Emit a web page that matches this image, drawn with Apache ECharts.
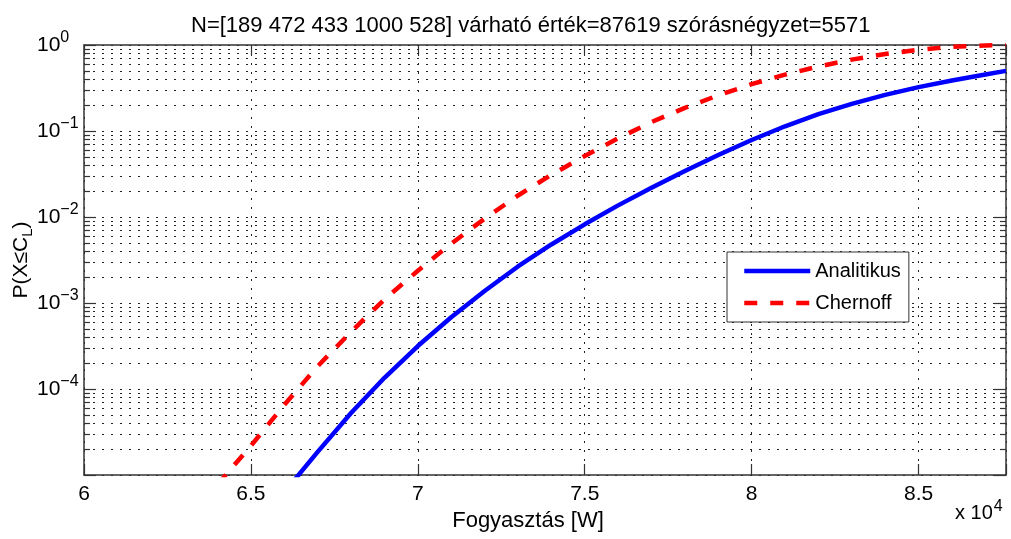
<!DOCTYPE html>
<html>
<head>
<meta charset="utf-8">
<script src="https://cdn.jsdelivr.net/npm/echarts@6/dist/echarts.min.js"></script>
<style>
  html, body { margin: 0; padding: 0; background: #fff; }
  #chart { width: 1011px; height: 539px; }
</style>
</head>
<body>
<div id="chart"></div>
<script>
// Consumption values [W] and probabilities P(X <= C_L)
const analitikusX = [66000, 67000, 68000, 69000, 70000, 71000, 72000, 73000, 74000, 75000, 76000,
  77000, 78000, 79000, 80000, 81000, 82000, 83000, 84000, 85000, 86000, 87000, 87619];
const analitikusP = [6.31e-6, 1.86e-5, 5.25e-5, 1.35e-4, 3.16e-4, 6.84e-4, 1.38e-3, 2.66e-3, 4.79e-3,
  8.22e-3, 1.365e-2, 2.19e-2, 3.43e-2, 5.25e-2, 7.85e-2, 0.1135, 0.157, 0.2065, 0.263, 0.324, 0.387,
  0.455, 0.500];

const chernoffX = [64000, 65000, 66000, 67000, 68000, 69000, 70000, 71000, 72000, 73000, 74000, 75000,
  76000, 77000, 78000, 79000, 80000, 81000, 82000, 83000, 84000, 85000, 86000, 87000, 87619];
const chernoffP = [7.76e-6, 2.19e-5, 6.53e-5, 1.84e-4, 4.62e-4, 1.10e-3, 2.37e-3, 4.90e-3, 9.55e-3,
  1.78e-2, 3.09e-2, 5.13e-2, 8.22e-2, 0.127, 0.186, 0.260, 0.351, 0.452, 0.562, 0.676, 0.785, 0.881,
  0.951, 0.989, 1.0];

// Axis ranges and tick settings
const X_MIN = 60000, X_MAX = 87619, X_STEP = 5000;
const Y_MIN = 1e-5, Y_MAX = 1;
const yDecades = [1e-5, 1e-4, 1e-3, 1e-2, 1e-1];
const minorSteps = [2, 3, 4, 5, 6, 7, 8, 9];

const titleText = 'N=[189 472 433 1000 528] várható érték=87619 szórásnégyzet=5571';
const seriesNames = ['Analitikus', 'Chernoff'];

// Minor log grid values (2..9 within each decade)
const minorValues = [];
yDecades.forEach(function (d) {
  minorSteps.forEach(function (m) { minorValues.push([X_MIN, +(m * d).toPrecision(3)]); });
});

const FONT = '"Liberation Sans", Arial, Helvetica, sans-serif';
const GRID_COLOR = '#222';
const AXIS_COLOR = '#333';
const DOT = [2, 7];
const LINE_W = 4.5;
const DASH = [13, 13];

const chart = echarts.init(document.getElementById('chart'), null, { renderer: 'canvas' });

function pair(xs, ys) { return xs.map(function (x, i) { return [x, ys[i]]; }); }

const option = {
  animation: false,
  backgroundColor: '#fff',
  textStyle: { fontFamily: FONT, color: '#000' },
  title: {
    text: titleText,
    left: 186, top: 9,
    textStyle: { fontFamily: FONT, fontSize: 22, fontWeight: 'normal', color: '#000', lineHeight: 23 }
  },
  grid: { left: 84, right: 5, top: 45, bottom: 64, containLabel: false, outerBoundsMode: 'none' },
  legend: {
    orient: 'vertical',
    left: 727, top: 252,
    padding: [9, 8, 9, 15],
    itemWidth: 66, itemHeight: 20, itemGap: 12,
    backgroundColor: '#fff',
    borderColor: AXIS_COLOR, borderWidth: 1, borderRadius: 0,
    itemStyle: { opacity: 0, borderWidth: 0 },
    lineStyle: { width: LINE_W },
    textStyle: { fontFamily: FONT, fontSize: 20, color: '#000' },
    data: [
      { name: seriesNames[0] },
      { name: seriesNames[1], lineStyle: { width: LINE_W, type: DASH } }
    ]
  },
  xAxis: [{
    type: 'value', min: X_MIN, max: X_MAX, interval: X_STEP,
    position: 'bottom',
    name: 'Fogyasztás [W]', nameLocation: 'middle', nameGap: 35, nameMoveOverlap: false,
    nameTextStyle: { fontFamily: FONT, fontSize: 22, color: '#000', padding: [0, 34, 0, 0] },
    axisLine: { show: true, onZero: false, lineStyle: { color: AXIS_COLOR, width: 1.5 } },
    axisTick: { show: true, inside: true, length: 11, lineStyle: { color: AXIS_COLOR, width: 1.2 } },
    axisLabel: {
      margin: 9, fontSize: 21, color: '#000', lineHeight: 21, fontFamily: FONT,
      formatter: function (v) { return (v % X_STEP === 0) ? String(v / 10000) : ''; }
    },
    splitLine: { show: true, lineStyle: { color: GRID_COLOR, width: 1, type: DOT } }
  }, {
    type: 'value', min: X_MIN, max: X_MAX, interval: X_STEP,
    position: 'top',
    axisLine: { show: true, onZero: false, lineStyle: { color: AXIS_COLOR, width: 1.5 } },
    axisTick: { show: true, inside: true, length: 10, lineStyle: { color: AXIS_COLOR, width: 1.2 } },
    axisLabel: { show: false },
    splitLine: { show: false }
  }],
  yAxis: [{
    type: 'log', logBase: 10, min: Y_MIN, max: Y_MAX,
    position: 'left',
    name: 'P(X≤C{sub|L})', nameLocation: 'middle', nameRotate: 90, nameGap: 49,
    nameMoveOverlap: false,
    nameTextStyle: {
      fontFamily: FONT, fontSize: 21, color: '#000',
      rich: { sub: { fontFamily: FONT, fontSize: 15, color: '#000', padding: [12, 0, 0, 0] } }
    },
    axisLine: { show: true, onZero: false, lineStyle: { color: AXIS_COLOR, width: 1.5 } },
    axisTick: { show: true, inside: true, length: 12, lineStyle: { color: AXIS_COLOR, width: 1.2 } },
    axisLabel: {
      align: 'left', margin: 47,
      formatter: function (v) {
        const e = Math.round(Math.log10(v));
        if (e === -5) return '';
        return '{b|10}{e|' + (e < 0 ? '\u2212' + (-e) : e) + '}';
      },
      rich: {
        b: { fontFamily: FONT, fontSize: 21, color: '#000' },
        e: { fontFamily: FONT, fontSize: 16, color: '#000', padding: [0, 0, 14, 0] }
      }
    },
    splitLine: { show: true, lineStyle: { color: GRID_COLOR, width: 1, type: DOT } }
  }, {
    type: 'log', logBase: 10, min: Y_MIN, max: Y_MAX,
    position: 'right',
    axisLine: { show: true, onZero: false, lineStyle: { color: AXIS_COLOR, width: 1.5 } },
    axisTick: { show: true, inside: true, length: 12, lineStyle: { color: AXIS_COLOR, width: 1.2 } },
    axisLabel: { show: false },
    splitLine: { show: false }
  }],
  graphic: [{
    type: 'text', left: 955, top: 499, z: 10,
    style: {
      text: '{b|x 10}{e|4}',
      rich: {
        b: { fontFamily: FONT, fontSize: 20, fill: '#000' },
        e: { fontFamily: FONT, fontSize: 16, fill: '#000', padding: [0, 0, 13, 1] }
      }
    }
  }],
  series: [{
    // minor log grid lines and minor ticks on both vertical edges
    type: 'custom',
    silent: true,
    z: 1,
    xAxisIndex: 0, yAxisIndex: 0,
    data: minorValues,
    encode: { x: 0, y: 1 },
    renderItem: function (params, api) {
      const cs = params.coordSys;
      const y = Math.round(api.coord([api.value(0), api.value(1)])[1]) + 0.5;
      const l = cs.x, r = cs.x + cs.width;
      return {
        type: 'group',
        children: [
          { type: 'line', shape: { x1: l, y1: y, x2: r, y2: y },
            style: { stroke: GRID_COLOR, lineWidth: 1, lineDash: DOT } },
          { type: 'line', shape: { x1: l, y1: y, x2: l + 6, y2: y },
            style: { stroke: AXIS_COLOR, lineWidth: 1.2 } },
          { type: 'line', shape: { x1: r - 6, y1: y, x2: r, y2: y },
            style: { stroke: AXIS_COLOR, lineWidth: 1.2 } }
        ]
      };
    }
  }, {
    name: seriesNames[0],
    type: 'line',
    z: 5,
    data: pair(analitikusX, analitikusP),
    symbol: 'none',
    smooth: false,
    clip: true,
    lineStyle: { color: '#0000ff', width: LINE_W, type: 'solid', join: 'round' },
    itemStyle: { color: '#0000ff' }
  }, {
    name: seriesNames[1],
    type: 'line',
    z: 5,
    data: pair(chernoffX, chernoffP),
    symbol: 'none',
    smooth: false,
    clip: true,
    lineStyle: { color: '#ff0000', width: LINE_W, type: DASH },
    itemStyle: { color: '#ff0000' }
  }]
};

chart.setOption(option);
</script>
</body>
</html>
